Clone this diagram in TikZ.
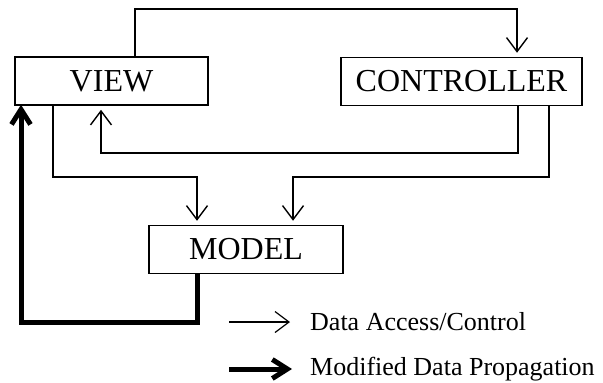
\documentclass[tikz,border=0pt]{standalone}
\usepackage{fontspec}
\setmainfont{Liberation Serif}
\usetikzlibrary{arrows.meta}
\tikzset{
  block/.style={draw, line width=1.5pt, inner sep=0pt, minimum height=48pt,
    font=\fontsize{32}{36}\selectfont},
  access/.style={line width=1.4pt, -{Straight Barb[length=14pt,width=21pt,line width=1.4pt]}},
  propagate/.style={line width=5pt, -{Straight Barb[length=15pt,width=19pt,line width=5pt]}},
  legendtext/.style={anchor=west, inner sep=0pt, font=\fontsize{26}{30}\selectfont}
}
\begin{document}
\begin{tikzpicture}[x=1pt, y=-1pt]
\useasboundingbox (0,0) rectangle (603,383);

% components
\node[block, minimum width=193pt] (view) at (111.5,81) {VIEW};
\node[block, minimum width=241pt] (ctrl) at (461.5,81.5) {CONTROLLER};
\node[block, minimum width=194pt] (model) at (246,249.5) {MODEL};

% routing corners
\coordinate (top) at (135,9);
\coordinate (ctop) at (517,0);
\coordinate (cbot1) at (518,153);
\coordinate (vret) at (101,0);
\coordinate (cbot2) at (549,177);
\coordinate (mtop2) at (293,0);
\coordinate (vbot) at (53,177);
\coordinate (mtop1) at (197,0);
\coordinate (low) at (197,322);
\coordinate (vleft) at (21,0);

% view -> controller over the top
\draw[access, shorten >=4pt] (view.north -| top) -- (top) -| (ctrl.north -| ctop);
% controller -> view
\draw[access, shorten >=4pt] (ctrl.south -| cbot1) -- (cbot1) -| (view.south -| vret);
% controller -> model
\draw[access, shorten >=4pt] (ctrl.south -| cbot2) -- (cbot2) -| (model.north -| mtop2);
% view -> model
\draw[access, shorten >=4pt] (view.south -| vbot) -- (vbot) -| (model.north -| mtop1);
% model -> view, propagation of modified data
\draw[propagate] (model.south -| low) -- (low) -| ([yshift=1pt]view.south -| vleft);

% legend
\coordinate (la1) at (229,322);
\coordinate (la2) at (290,322);
\coordinate (lb1) at (229,369);
\coordinate (lb2) at (292,369);
\draw[line width=1.2pt, -{Straight Barb[length=14pt,width=21pt,line width=1.2pt]}] (la1) -- (la2);
\draw[propagate] (lb1) -- (lb2);
\node[legendtext] (lta) at (310,322) {Data Access/Control};
\node[legendtext] (ltb) at (310,369) {Modified Data Propagation};
\end{tikzpicture}
\end{document}
